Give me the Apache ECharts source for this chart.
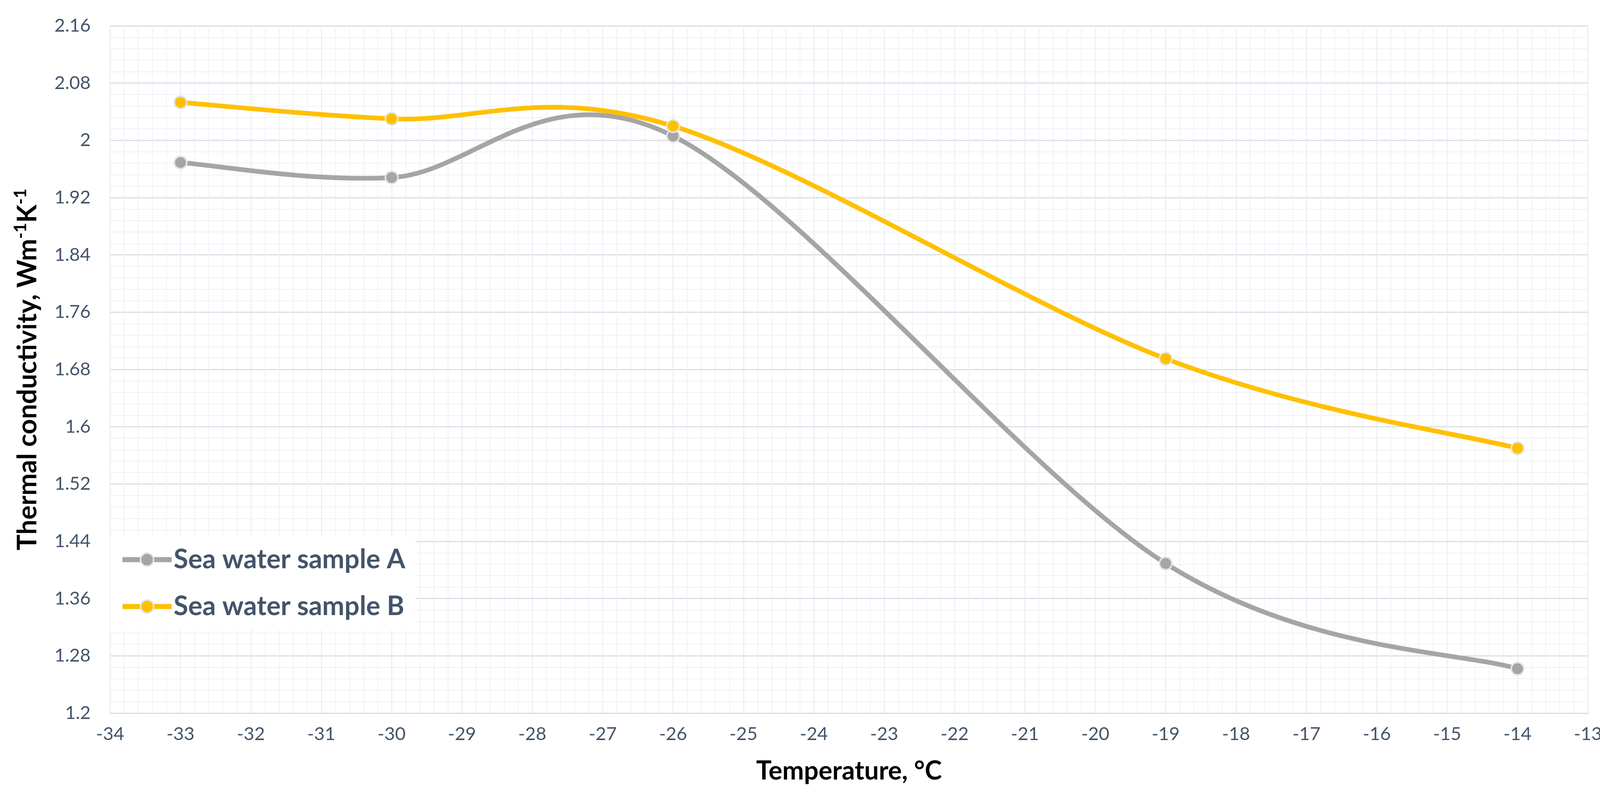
<!DOCTYPE html>
<html>
<head>
<meta charset="utf-8">
<script src="https://cdn.jsdelivr.net/npm/echarts@6/dist/echarts.min.js"></script>
<style>
html,body{margin:0;padding:0;background:#fff;}
#chart{width:4142px;height:2051px;}
</style>
</head>
<body>
<div id="chart"></div>
<script>
// Data
const temperatures = [-33, -30, -26, -19, -14];
const sampleA = [1.969, 1.948, 2.006, 1.409, 1.262];
const sampleB = [2.053, 2.030, 2.020, 1.695, 1.570];
const seriesNames = ['Sea water sample A', 'Sea water sample B'];
const seriesColors = ['#A5A5A5', '#FFC000'];
const xTitle = 'Temperature, °C';

const FONT = 'Lato, "Open Sans", sans-serif';
const TICK_COLOR = '#44546A';
const LINE_W = 12;

const chart = echarts.init(document.getElementById('chart'), null, {renderer: 'canvas'});

function pairs(xs, ys) { return xs.map((x, i) => [x, ys[i]]); }

// Smooth curve (Catmull-Rom style, as spreadsheet "smoothed line") drawn via the axes' scales
function curveSeries(name, values, color, z) {
  const n = values.length;
  return {
    name: name,
    type: 'custom',
    coordinateSystem: 'cartesian2d',
    data: pairs(temperatures, values),
    encode: { x: 0, y: 1 },
    z: z,
    silent: true,
    renderItem: function (params, api) {
      const i = params.dataIndexInside;
      if (i >= n - 1) return null;
      const P = k => api.coord([api.value(0, k), api.value(1, k)]);
      const p0 = P(Math.max(i - 1, 0));
      const p1 = P(i);
      const p2 = P(i + 1);
      const p3 = P(Math.min(i + 2, n - 1));
      const t = 1 / 6;
      return {
        type: 'bezierCurve',
        shape: {
          x1: p1[0], y1: p1[1], x2: p2[0], y2: p2[1],
          cpx1: p1[0] + (p2[0] - p0[0]) * t, cpy1: p1[1] + (p2[1] - p0[1]) * t,
          cpx2: p2[0] - (p3[0] - p1[0]) * t, cpy2: p2[1] - (p3[1] - p1[1]) * t
        },
        style: { stroke: color, lineWidth: LINE_W, fill: null, lineCap: 'round' }
      };
    }
  };
}

function markerSeries(name, values, color, z) {
  return {
    name: name,
    type: 'line',
    data: pairs(temperatures, values),
    symbol: 'circle',
    symbolSize: 32,
    showSymbol: true,
    lineStyle: { color: color, width: LINE_W, opacity: 0 },
    itemStyle: { color: color, borderColor: '#e6e6e6', borderWidth: 4 },
    z: z
  };
}

const option = {
  animation: false,
  backgroundColor: '#ffffff',
  grid: { left: 282, right: 77, top: 66, bottom: 225, containLabel: false },
  legend: {
    orient: 'vertical',
    left: 282,
    top: 1375,
    backgroundColor: '#ffffff',
    padding: [18, 26, 20, 25],
    itemWidth: 126,
    itemHeight: 42,
    itemGap: 40,
    data: seriesNames,
    lineStyle: { width: 13, opacity: 1 },
    itemStyle: { borderWidth: 4, borderColor: '#e6e6e6' },
    textStyle: { fontFamily: FONT, fontSize: 68, fontWeight: 'bold', color: TICK_COLOR, lineHeight: 80 },
    z: 10
  },
  xAxis: {
    type: 'value',
    min: -34, max: -13, interval: 1,
    name: xTitle,
    nameLocation: 'middle',
    nameGap: 116,
    nameTextStyle: { fontFamily: FONT, fontSize: 66, fontWeight: 'bold', color: '#000' },
    axisLine: { show: true, onZero: false, lineStyle: { color: '#d6dce5', width: 3 } },
    axisTick: { show: false },
    axisLabel: { fontFamily: FONT, fontSize: 47, color: TICK_COLOR, margin: 30 },
    splitLine: { show: true, lineStyle: { color: '#e6eaf0', width: 2 } },
    minorTick: { show: false, splitNumber: 5 },
    minorSplitLine: { show: true, lineStyle: { color: '#eef1f5', width: 2 } }
  },
  yAxis: {
    type: 'value',
    min: 1.2, max: 2.16, interval: 0.08,
    name: '{b|Thermal conductivity, Wm}{s|-1}{b|K}{s|-1}',
    nameLocation: 'middle',
    nameGap: 172,
    nameRotate: 90,
    nameTextStyle: {
      fontFamily: FONT, fontSize: 68, fontWeight: 'bold', color: '#000',
      rich: {
        b: { fontFamily: FONT, fontSize: 68, fontWeight: 'bold', color: '#000', lineHeight: 78 },
        s: { fontFamily: FONT, fontSize: 43, fontWeight: 'bold', color: '#000', lineHeight: 44, verticalAlign: 'top' }
      }
    },
    axisLine: { show: true, lineStyle: { color: '#e3e7ee', width: 2 } },
    axisTick: { show: false },
    axisLabel: {
      fontFamily: FONT, fontSize: 47, color: TICK_COLOR, margin: 50,
      formatter: v => String(+v.toFixed(2))
    },
    splitLine: { show: true, lineStyle: { color: '#d9dfe8', width: 3 } },
    minorTick: { show: false, splitNumber: 5 },
    minorSplitLine: { show: true, lineStyle: { color: '#eef1f5', width: 2 } }
  },
  series: [
    curveSeries('curveA', sampleA, seriesColors[0], 2),
    markerSeries(seriesNames[0], sampleA, seriesColors[0], 4),
    curveSeries('curveB', sampleB, seriesColors[1], 3),
    markerSeries(seriesNames[1], sampleB, seriesColors[1], 5)
  ]
};
chart.setOption(option);
</script>
</body>
</html>
